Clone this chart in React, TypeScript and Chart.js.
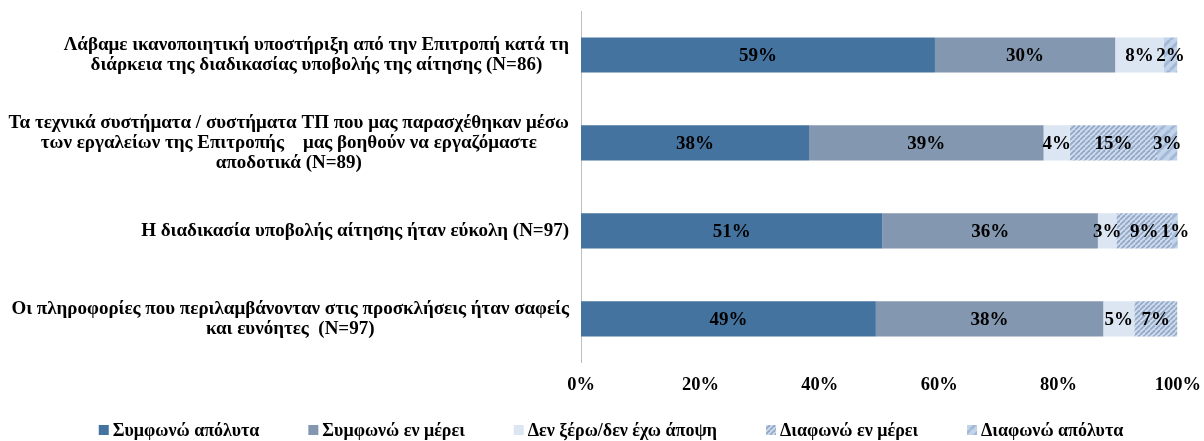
import React, { useEffect, useRef } from "react";
import { Chart, registerables } from "chart.js";

Chart.register(...registerables);

const categories: string[][] = [
  ["Λάβαμε ικανοποιητική υποστήριξη από την Επιτροπή κατά τη", "διάρκεια της διαδικασίας υποβολής της αίτησης (N=86)"],
  ["Τα τεχνικά συστήματα / συστήματα ΤΠ που μας παρασχέθηκαν μέσω", "των εργαλείων της Επιτροπής    μας βοηθούν να εργαζόμαστε", "αποδοτικά (N=89)"],
  ["Η διαδικασία υποβολής αίτησης ήταν εύκολη (N=97)"],
  ["Οι πληροφορίες που περιλαμβάνονταν στις προσκλήσεις ήταν σαφείς", "και ευνόητες  (N=97)"],
];

const seriesNames = ["Συμφωνώ απόλυτα", "Συμφωνώ εν μέρει", "Δεν ξέρω/δεν έχω άποψη", "Διαφωνώ εν μέρει", "Διαφωνώ απόλυτα"];
const agreeFully = [59.3, 38.2, 50.5, 49.4];
const agreePartly = [30.2, 39.3, 36.1, 38.1];
const dontKnow = [8.1, 4.4, 3.1, 5.2];
const disagreePartly = [0, 14.6, 9.3, 7.2];
const disagreeFully = [2.3, 3.4, 1.0, 0];
const xTicks = [0, 20, 40, 60, 80, 100];

const SERIF = "'Liberation Serif', 'Times New Roman', serif";

function makePattern(base: string, stripe: string, period: number, lw: number): CanvasPattern | string {
  const c = document.createElement("canvas");
  c.width = period;
  c.height = period;
  const ctx = c.getContext("2d");
  if (!ctx) return base;
  ctx.fillStyle = base;
  ctx.fillRect(0, 0, period, period);
  ctx.strokeStyle = stripe;
  ctx.lineWidth = lw;
  for (let k = -1; k <= 1; k++) {
    ctx.beginPath();
    ctx.moveTo(k * period, period);
    ctx.lineTo(k * period + period, 0);
    ctx.stroke();
  }
  return ctx.createPattern(c, "repeat") || base;
}

export default function App() {
  const ref = useRef<HTMLCanvasElement | null>(null);
  useEffect(() => {
    if (!ref.current) return;
    const patPartly = makePattern("#CFDCEE", "#93A8C6", 5, 1.8);
    const patFully = makePattern("#C2D4EA", "#A2B8D6", 10, 3);

    const yLabelPlugin = {
      id: "yLabels",
      afterDraw(chart: any) {
        const ctx = chart.ctx;
        const yScale = chart.scales.y;
        ctx.save();
        ctx.font = `bold 19px ${SERIF}`;
        ctx.fillStyle = "#000";
        ctx.textBaseline = "middle";
        ctx.textAlign = "center";
        const right = chart.chartArea.left - 12;
        const lh = 20;
        categories.forEach((lines, i) => {
          const yc = yScale.getPixelForValue(i);
          const w = Math.max(...lines.map((l) => ctx.measureText(l).width));
          const cx = right - w / 2;
          const y0 = yc - ((lines.length - 1) * lh) / 2;
          lines.forEach((l, j) => ctx.fillText(l, cx, y0 + j * lh));
        });
        ctx.restore();
      },
    };

    const legendPlugin = {
      id: "customLegend",
      afterDraw(chart: any) {
        const ctx = chart.ctx;
        ctx.save();
        ctx.font = `bold 18px ${SERIF}`;
        ctx.textBaseline = "middle";
        ctx.textAlign = "left";
        const box = 10;
        const gapBox = 4;
        const gapItem = 49;
        const widths = chart.data.datasets.map((d: any) => box + gapBox + ctx.measureText(d.label).width);
        const total = widths.reduce((a: number, b: number) => a + b, 0) + gapItem * (widths.length - 1);
        let x = chart.width / 2 + 9 - total / 2;
        const y = chart.height - 11;
        chart.data.datasets.forEach((d: any, i: number) => {
          ctx.fillStyle = d.backgroundColor;
          ctx.fillRect(x, y - box / 2, box, box);
          ctx.fillStyle = "#000";
          ctx.fillText(d.label, x + box + gapBox, y + 1);
          x += widths[i] + gapItem;
        });
        ctx.restore();
      },
    };

    const valueLabelPlugin = {
      id: "valueLabels",
      afterDatasetsDraw(chart: any) {
        const ctx = chart.ctx;
        ctx.save();
        ctx.font = `bold 19px ${SERIF}`;
        ctx.fillStyle = "#000";
        ctx.textAlign = "center";
        ctx.textBaseline = "middle";
        chart.data.datasets.forEach((ds: any, di: number) => {
          const meta = chart.getDatasetMeta(di);
          meta.data.forEach((el: any, i: number) => {
            const v = ds.data[i];
            if (!v) return;
            const x = (el.x + el.base) / 2;
            ctx.fillText(Math.round(v) + "%", x, el.y + 1);
          });
        });
        ctx.restore();
      },
    };

    const chart = new Chart(ref.current, {
      type: "bar",
      data: {
        labels: categories.map((c) => c.join(" ")),
        datasets: [
          { label: seriesNames[0], data: agreeFully, backgroundColor: "#44739F" },
          { label: seriesNames[1], data: agreePartly, backgroundColor: "#8497B0" },
          { label: seriesNames[2], data: dontKnow, backgroundColor: "#DCE6F2" },
          { label: seriesNames[3], data: disagreePartly, backgroundColor: patPartly as any },
          { label: seriesNames[4], data: disagreeFully, backgroundColor: patFully as any },
        ],
      },
      options: {
        indexAxis: "y",
        animation: false,
        responsive: true,
        maintainAspectRatio: false,
        layout: { padding: { top: 11, right: 26, bottom: 42, left: 0 } },
        datasets: { bar: { categoryPercentage: 1, barPercentage: 0.4 } },
        scales: {
          x: {
            stacked: true,
            min: 0,
            max: 100,
            afterBuildTicks: (scale: any) => {
              scale.ticks = xTicks.map((v) => ({ value: v }));
            },
            ticks: {
              callback: (v: any) => v + "%",
              font: { family: SERIF, size: 18.5, weight: "bold" },
              color: "#000",
              padding: 3,
            },
            grid: { display: false },
            border: { display: false },
          },
          y: {
            stacked: true,
            ticks: { display: false },
            grid: { display: false },
            border: { display: true, color: "#BFBFBF", width: 1 },
            afterFit: (scale: any) => {
              scale.width = 581;
            },
          },
        },
        plugins: {
          legend: { display: false },
          tooltip: { enabled: false },
        },
      },
      plugins: [yLabelPlugin, valueLabelPlugin, legendPlugin],
    });
    return () => chart.destroy();
  }, []);
  return (
    <div style={{ position: "absolute", left: 0, top: 0, width: 1204, height: 441, background: "#fff" }}>
      <canvas ref={ref} />
    </div>
  );
}
